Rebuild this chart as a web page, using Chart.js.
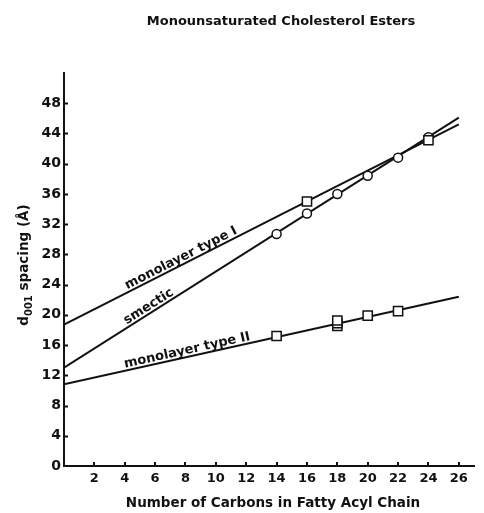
<!DOCTYPE html>
<html>
<head>
<meta charset="utf-8">
<script src="https://cdn.jsdelivr.net/npm/chart.js@4/dist/chart.umd.min.js"></script>
<style>
  html, body { margin: 0; padding: 0; background: #fff; }
  #wrap { width: 484px; height: 513px; }
</style>
</head>
<body>
<div id="wrap"><canvas id="c" width="484" height="513"></canvas></div>
<script>
// Axis tick values
const xTicks = [2, 4, 6, 8, 10, 12, 14, 16, 18, 20, 22, 24, 26];
const yTicks = [0, 4, 8, 12, 16, 20, 24, 28, 32, 36, 40, 44, 48];

// Measured d001 spacings (Å) by number of carbons in the fatty acyl chain
const smecticCarbons = [14, 16, 18, 20, 22, 24];
const smecticSpacing = [30.7, 33.4, 36.0, 38.4, 40.8, 43.5];
const mono1Carbons = [16, 24];
const mono1Spacing = [35.0, 43.1];
const mono2Carbons = [14, 18, 18, 18, 20, 22];
const mono2Spacing = [17.2, 18.55, 18.9, 19.25, 19.9, 20.5];

// Straight-line fits, given at 0 and 26 carbons
const fitCarbons = [0, 26];
const mono1Fit = [18.7, 45.2];
const smecticFit = [13.0, 46.1];
const mono2Fit = [10.8, 22.4];

// Phase names written along each fit line, and where along x they sit
const lineNames = ['monolayer type I', 'smectic', 'monolayer type II'];
const lineNameAt = [7.9, 5.8, 8.2];

const chartTitle = 'Monounsaturated Cholesterol Esters';
const xTitle = 'Number of Carbons in Fatty Acyl Chain';

const FONT = '"DejaVu Sans", "Liberation Sans", Arial, sans-serif';
const INK = '#111';

const pts = (xs, ys) => xs.map((v, i) => ({ x: v, y: ys[i] }));

const lineDs = (vals) => ({
  data: pts(fitCarbons, vals),
  showLine: true,
  borderColor: INK,
  borderWidth: 2,
  pointRadius: 0,
  order: 3
});

const markerDs = (xs, ys, style, r, ord) => ({
  data: pts(xs, ys),
  showLine: false,
  pointStyle: style,
  pointRadius: r,
  pointBackgroundColor: '#fff',
  pointBorderColor: INK,
  pointBorderWidth: 1.5,
  order: ord
});

// Short inward tick marks on both axes
const innerTicks = {
  id: 'innerTicks',
  afterDraw(chart) {
    const { ctx, chartArea: a, scales: { x, y } } = chart;
    ctx.save();
    ctx.strokeStyle = INK;
    ctx.lineWidth = 2;
    ctx.beginPath();
    yTicks.forEach(v => {
      if (v === 0) return;
      const p = Math.round(y.getPixelForValue(v)) + 0.5;
      ctx.moveTo(a.left, p); ctx.lineTo(a.left + 4, p);
    });
    xTicks.forEach(v => {
      const p = Math.round(x.getPixelForValue(v));
      ctx.moveTo(p, a.bottom); ctx.lineTo(p, a.bottom - 4);
    });
    ctx.stroke();
    ctx.restore();
  }
};

// Phase names laid along their fit lines
const lineNamePlugin = {
  id: 'lineNames',
  afterDatasetsDraw(chart) {
    const { ctx, scales: { x, y } } = chart;
    const fits = [mono1Fit, smecticFit, mono2Fit];
    ctx.save();
    ctx.fillStyle = INK;
    ctx.font = 'bold 13px ' + FONT;
    ctx.textAlign = 'center';
    ctx.textBaseline = 'alphabetic';
    fits.forEach((f, i) => {
      const x0 = x.getPixelForValue(fitCarbons[0]), y0 = y.getPixelForValue(f[0]);
      const x1 = x.getPixelForValue(fitCarbons[1]), y1 = y.getPixelForValue(f[1]);
      const ang = Math.atan2(y1 - y0, x1 - x0);
      const t = (lineNameAt[i] - fitCarbons[0]) / (fitCarbons[1] - fitCarbons[0]);
      const cx = x.getPixelForValue(lineNameAt[i]);
      const cy = y.getPixelForValue(f[0] + (f[1] - f[0]) * t);
      ctx.save();
      ctx.translate(cx, cy);
      ctx.rotate(ang);
      ctx.fillText(lineNames[i], 0, -3);
      ctx.restore();
    });
    ctx.restore();
  }
};

// Chart title and axis titles (the y title carries a subscript)
const titles = {
  id: 'titles',
  afterDraw(chart) {
    const { ctx } = chart;
    ctx.save();
    ctx.fillStyle = INK;
    ctx.textBaseline = 'alphabetic';

    ctx.font = 'bold 13px ' + FONT;
    ctx.textAlign = 'center';
    ctx.fillText(chartTitle, 281, 25);

    ctx.font = 'bold 13.5px ' + FONT;
    ctx.fillText(xTitle, 273, 507);

    // "d001 spacing (Å)" rotated, reading upward
    const main = 'bold 13.5px ' + FONT;
    const sub = 'bold 10px ' + FONT;
    ctx.textAlign = 'left';
    ctx.font = main; const wD = ctx.measureText('d').width;
    const wRest = ctx.measureText(' spacing (Å)').width;
    ctx.font = sub; const wSub = ctx.measureText('001').width;
    const total = wD + wSub + wRest;
    ctx.translate(28, 265);
    ctx.rotate(-Math.PI / 2);
    let px = -total / 2;
    ctx.font = main; ctx.fillText('d', px, 0); px += wD;
    ctx.font = sub; ctx.fillText('001', px, 4); px += wSub;
    ctx.font = main; ctx.fillText(' spacing (Å)', px, 0);
    ctx.restore();
  }
};

new Chart(document.getElementById('c'), {
  type: 'scatter',
  data: {
    datasets: [
      lineDs(mono1Fit),
      lineDs(smecticFit),
      lineDs(mono2Fit),
      markerDs(smecticCarbons, smecticSpacing, 'circle', 4.5, 2),
      markerDs(mono1Carbons, mono1Spacing, 'rect', 6.5, 1),
      markerDs(mono2Carbons, mono2Spacing, 'rect', 6.5, 1)
    ]
  },
  options: {
    responsive: false,
    devicePixelRatio: 1,
    animation: false,
    layout: { padding: { left: 0, right: 10, top: 73, bottom: 0 } },
    plugins: { legend: { display: false }, tooltip: { enabled: false }, title: { display: false } },
    scales: {
      x: {
        type: 'linear',
        min: 0,
        max: 27,
        afterBuildTicks: s => { s.ticks = xTicks.map(v => ({ value: v })); },
        afterFit: s => { s.height = 47; },
        grid: { display: true, drawOnChartArea: false, drawTicks: false },
        border: { display: true, color: INK, width: 2 },
        ticks: {
          autoSkip: false, maxRotation: 0, padding: 5, color: INK,
          font: { family: FONT, size: 13, weight: 'bold' }
        }
      },
      y: {
        type: 'linear',
        min: 0,
        max: 52,
        afterBuildTicks: s => { s.ticks = yTicks.map(v => ({ value: v })); },
        afterFit: s => { s.width = 64; },
        grid: { display: true, drawOnChartArea: false, drawTicks: false },
        border: { display: true, color: INK, width: 2 },
        ticks: {
          autoSkip: false, padding: 3, color: INK,
          font: { family: FONT, size: 14, weight: 'bold' }
        }
      }
    }
  },
  plugins: [innerTicks, lineNamePlugin, titles]
});
</script>
</body>
</html>
